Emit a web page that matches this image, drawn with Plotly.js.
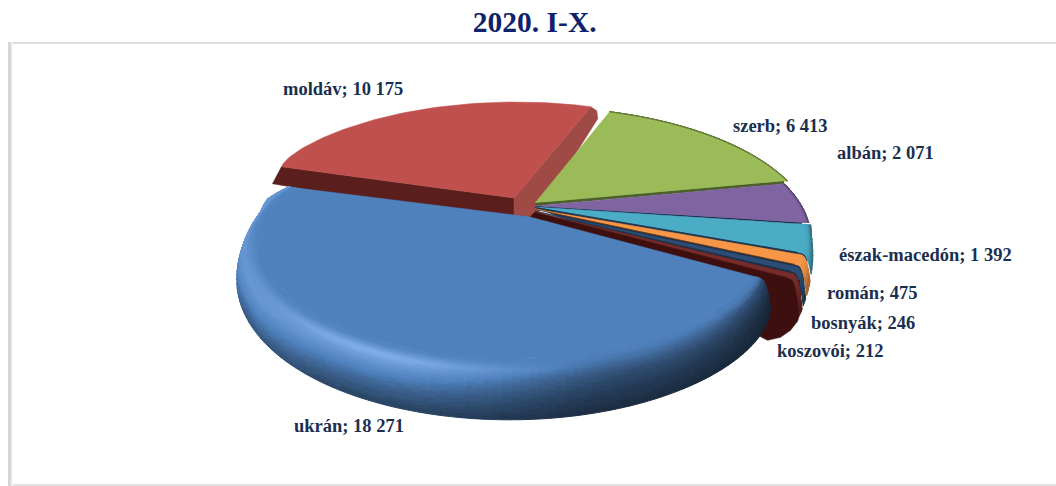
<!DOCTYPE html>
<html><head><meta charset="utf-8">
<script src="https://cdn.plot.ly/plotly-3.0.1.min.js"></script>
<style>html,body{margin:0;padding:0;background:#fff}#c{width:1056px;height:486px}</style>
</head><body><div id="c"></div>
<script>
// ---- data ----
var categories = ["ukrán","moldáv","szerb","albán","észak-macedón","román","bosnyák","koszovói"];
var values = [18271,10175,6413,2071,1392,475,246,212];
var titleText = "2020. I-X.";

// ---- styling ----
var baseColors = ["#4f81bd","#c0504d","#9bbb59","#8064a2","#4bacc6","#f79646","#2c4d75","#772c2a"];
var labelX = [349,343,780,885.5,925,872.5,863,830];
var labelY = [426,89,126,153,255,293,323,351];
var arcOffX = [-20,-18,1,-2,0,-1,-2,-3];
var arcOffY = [12,-7,-2,1,3,5,7,9];
var apexX = [530,514,535,535,535,535,535,535];
var apexY = [217,198,203,206,207,209,211,212];
var flatR = [0.91,1,0.985,0.975,0.955,0.96,0.96,0.96];
var rimScale = [1,1,1,1,1,1.25,1.3,1.35];
var edgeColor = [null,null,"#4c6128","#1f2f55","#1f3a50","#5a3a20","#1d3350","#4a1512"];
var edgeWidth = [0,0,3,1.5,1.2,0.8,0.8,0.8];
var labelColor = "#1a2f50";
var titleColor = "#10226a";
var serif = "'Liberation Serif','Times New Roman',serif";

// perspective projection of the pie's unit disc
var CX=534, CY=205, A=270, B=120, Q=0.25, RIM=43, START=70;
function rad(d){return d*Math.PI/180;}
function proj(r,th){var u=r*Math.cos(rad(th)),v=r*Math.sin(rad(th)),w=1+Q*v;return [CX+A*u/w,CY-B*v/w];}
function depth(th){var s=-Math.sin(rad(th+8));return s>0?RIM*Math.sqrt(s):0;}
function hex(c){return [parseInt(c.substr(1,2),16),parseInt(c.substr(3,2),16),parseInt(c.substr(5,2),16)];}
function rgb(a){return "rgb("+a.map(function(v){return Math.round(Math.max(0,Math.min(255,v)));}).join(",")+")";}
function shade(base,g){
  var c=hex(base);
  if(g<=1) return rgb(c.map(function(v){return v*g;}));
  var f=Math.min(1,(g-1)/0.7), l=[c[0]*1.72,c[1]*1.42,c[2]*1.28];
  return rgb(c.map(function(v,i){return v+(l[i]-v)*f;}));
}
// rim lighting tables: row per direction, column per position across the rim
var lightAng=[0,30,70,115,150,180,200];
var lightTab=[[1,.9,.85,.8,.7],[1,.6,.45,.35,.28],[1,.85,.62,.47,.34],[1,1.6,1.2,.82,.52],[1,1.25,1.3,1.05,.68],[1,1.1,1.3,1.35,1.15],[1,1.05,1.2,1.3,1.25]];
var softTab=[1,1,.95,.82,.62];
function lerpTab(row,t){var p=t*4,i=Math.min(3,Math.floor(p));return row[i]+(row[i+1]-row[i])*(p-i);}
function lightBlue(th,t){
  var ang=((-th)%360+360)%360, i=0;
  while(i<lightAng.length-2&&ang>lightAng[i+1])i++;
  var f=Math.max(0,Math.min(1,(ang-lightAng[i])/(lightAng[i+1]-lightAng[i])));
  var w=f*f*(3-2*f);
  return lerpTab(lightTab[i],t)*(1-w)+lerpTab(lightTab[i+1],t)*w;
}

var total=values.reduce(function(a,b){return a+b;},0);
var spans=values.map(function(v){return v/total*360;});
var theta0=START-360+(spans[0]+spans[1]);
var sl=[],cur=theta0;
values.forEach(function(v,i){sl.push({i:i,t1:cur,t2:cur-spans[i]});cur-=spans[i];});

function pushPoly(tr,pts){pts.forEach(function(p){tr.x.push(p[0]);tr.y.push(p[1]);});tr.x.push(pts[0][0],null);tr.y.push(pts[0][1],null);}
function rimTraces(s){
  var i=s.i, groups={}, rf=flatR[i];
  if(rf>=1) return [];
  var n=Math.max(2,Math.ceil((s.t1-s.t2)/1.5)), m=i===0?24:8;
  function pt(th,t){
    var rO=1;
    if(i===0){rO=1-0.07*Math.exp(-(th-s.t2)/12)-0.04*Math.exp(-(s.t1-th)/8);}
    var e=Math.sqrt(t),r=rf+(rO-rf)*e,p=proj(r,th);
    return [p[0]+arcOffX[i],p[1]+arcOffY[i]+depth(th)*rimScale[i]*t*t];
  }
  for(var a=0;a<n;a++){
    var th1=s.t1-(s.t1-s.t2)*a/n, th2=s.t1-(s.t1-s.t2)*(a+1)/n, mid=(th1+th2)/2;
    for(var b=0;b<m;b++){
      var t1=b/m,t2=(b+1)/m,tm=(t1+t2)/2;
      var g=i===0?lightBlue(mid,tm):lerpTab(softTab,tm);
      var key=(Math.round(g*60)/60).toFixed(3);
      if(!groups[key])groups[key]={x:[],y:[]};
      pushPoly(groups[key],[pt(th1,t1),pt(th2,t1),pt(th2,t2),pt(th1,t2)]);
    }
  }
  return Object.keys(groups).map(function(k){
    var col=shade(baseColors[i],parseFloat(k));
    return {type:"scatter",mode:"lines",x:groups[k].x,y:groups[k].y,fill:"toself",fillcolor:col,line:{color:col,width:1},hoverinfo:"skip",showlegend:false};
  });
}
function redTaper(s,th){return s.i===1?1-0.03*Math.exp(-(s.t1-th)/5):1;}
function topTrace(s){
  var i=s.i,xs=[apexX[i]],ys=[apexY[i]],n=Math.ceil((s.t1-s.t2)/1.5)+1;
  for(var a=0;a<=n;a++){var th=s.t1-(s.t1-s.t2)*a/n,p=proj(flatR[i]*redTaper(s,th),th);xs.push(p[0]+arcOffX[i]);ys.push(p[1]+arcOffY[i]);}
  xs.push(apexX[i]);ys.push(apexY[i]);
  return {type:"scatter",mode:"lines",x:xs,y:ys,fill:"toself",fillcolor:baseColors[i],line:{color:baseColors[i],width:0.5},name:categories[i],text:categories[i]+": "+values[i],hoverinfo:"text",showlegend:false};
}
function poly(pts,col){
  return {type:"scatter",mode:"lines",x:pts.map(function(p){return p[0];}).concat(pts[0][0]),y:pts.map(function(p){return p[1];}).concat(pts[0][1]),fill:"toself",fillcolor:col,line:{color:col,width:0.5},hoverinfo:"skip",showlegend:false};
}
var traces=[];
// moldáv: cut faces, then its surface
var red=sl[1], r0=proj(0.97,red.t1), r1=proj(1,red.t2);
r0=[r0[0]+arcOffX[1],r0[1]+arcOffY[1]]; r1=[r1[0]+arcOffX[1],r1[1]+arcOffY[1]];
var ra=[apexX[1],apexY[1]];
traces.push(poly([r0,ra,[ra[0],ra[1]+26],[r0[0]-9,r0[1]+17]],"#5a1f1c"));
traces.push(poly([ra,r1,[r1[0]+6,r1[1]+4],[r1[0]+7,r1[1]+12],[ra[0]+21,ra[1]+20],[ra[0],ra[1]+20]],"#a04a46"));
traces.push(topTrace(red));
// dark backing behind the narrow slices, so their seams read as dark lines
(function(){
  var from=sl[4].t1, to=sl[7].t2, pts=[[apexX[4],apexY[4]]];
  for(var a=0;a<=20;a++){
    var th=from+(to-from)*a/20,p=proj(0.985,th),f=a/20;
    pts.push([p[0]-f*3,p[1]+3+f*6+depth(th)*(1+0.3*f)]);
  }
  traces.push(poly(pts,"#1f2c42"));
})();
// small slices back to front
for(var k=2;k<8;k++){
  var s=sl[k];
  if(k===7){ // dark cut face of the last small slice, behind ukrán
    var pe=proj(1,s.t2),sx=pe[0]+arcOffX[7],sy=pe[1]+arcOffY[7]+depth(s.t2)*rimScale[7];
    traces.push(poly([[apexX[7],apexY[7]],[pe[0]+arcOffX[7],pe[1]+arcOffY[7]],[sx,sy],[sx-2,sy+6],[sx-9,sy+15],[sx-19,sy+22],[sx-32,sy+25],[apexX[0],apexY[0]]],"#3e0f0f"));
  }
  rimTraces(s).forEach(function(t){traces.push(t);});
  traces.push(topTrace(s));
  var pb=proj(flatR[k],s.t2);
  traces.push({type:"scatter",mode:"lines",x:[apexX[k],pb[0]+arcOffX[k]],y:[apexY[k]+edgeWidth[k]/2,pb[1]+arcOffY[k]+edgeWidth[k]/2],line:{color:edgeColor[k],width:edgeWidth[k]},hoverinfo:"skip",showlegend:false});
}
// ukrán on top
rimTraces(sl[0]).forEach(function(t){traces.push(t);});
traces.push(topTrace(sl[0]));

function fmt(v){return String(v).replace(/\B(?=(\d{3})+$)/g," ");}
var annotations=categories.map(function(c,i){
  return {x:labelX[i],y:labelY[i],xref:"x",yref:"y",text:"<b>"+c+"; "+fmt(values[i])+"</b>",showarrow:false,xanchor:"center",yanchor:"middle",font:{family:serif,size:18.5,color:labelColor}};
});
function vline(x,c){return {type:"line",layer:"below",xref:"x",yref:"y",x0:x,x1:x,y0:42,y1:486,line:{color:c,width:1}};}
function hline(y,c,w){return {type:"line",layer:"below",xref:"x",yref:"y",x0:8,x1:1056,y0:y,y1:y,line:{color:c,width:w}};}
var shapes=[hline(43,"#dcdcdc",2),hline(485,"#e2e2e2",2),vline(8.5,"#d8d8d8"),vline(9.5,"#d0d0d0"),vline(10.5,"#dcdcdc"),vline(11.5,"#ececec"),vline(12.5,"#f7f7f7")];

Plotly.newPlot("c",traces,{
  width:1056,height:486,margin:{l:0,r:0,t:0,b:0,pad:0},paper_bgcolor:"#fff",plot_bgcolor:"#fff",showlegend:false,
  title:{text:"<b>"+titleText+"</b>",x:534.7/1056,xanchor:"center",y:1-22/486,yanchor:"middle",font:{family:serif,size:29.5,color:titleColor}},
  xaxis:{range:[0,1056],visible:false,fixedrange:true},
  yaxis:{range:[486,0],visible:false,fixedrange:true},
  annotations:annotations,shapes:shapes
},{displayModeBar:false});
</script></body></html>
